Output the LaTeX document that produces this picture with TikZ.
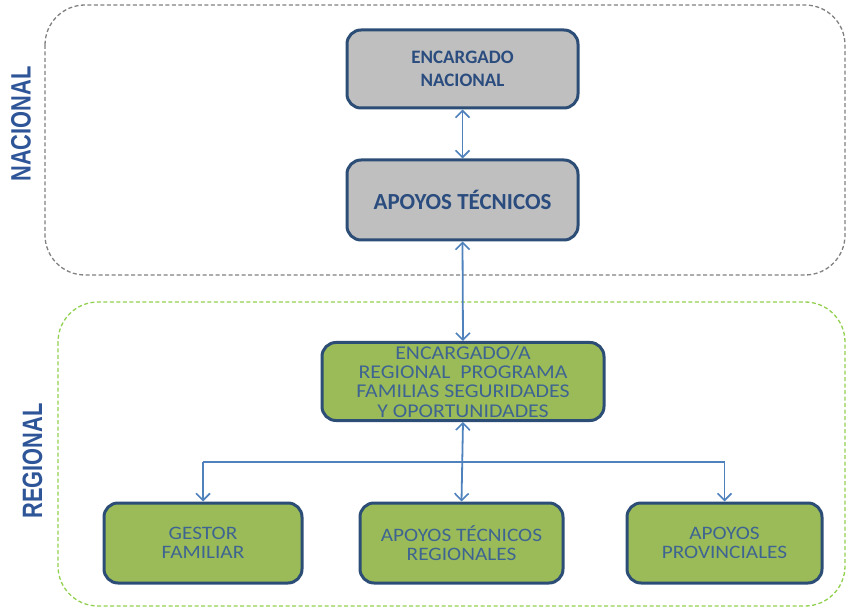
\documentclass[tikz,border=0pt]{standalone}
\usepackage{fontspec}
\setmainfont{Carlito}
\newfontfamily\narrowfont[FakeStretch=0.78]{Liberation Sans}
\newfontfamily\wideregfont[FakeStretch=1.12]{Carlito}
\usetikzlibrary{arrows.meta}
\definecolor{boxborder}{RGB}{44,77,117}
\definecolor{grayfill}{RGB}{191,191,191}
\definecolor{greenfill}{RGB}{155,187,89}
\definecolor{arrowblue}{RGB}{79,129,189}
\definecolor{textnat}{RGB}{43,76,126}
\definecolor{textreg}{RGB}{62,100,145}
\definecolor{sidelabel}{RGB}{46,85,151}
\definecolor{natdash}{RGB}{128,128,128}
\definecolor{regdash}{RGB}{146,208,80}
\tikzset{
  natbox/.style={draw=boxborder, line width=3pt, rounded corners=14pt, fill=grayfill,
    text=textnat, align=center, inner sep=0pt},
  regbox/.style={draw=boxborder, line width=3pt, rounded corners=14pt, fill=greenfill,
    text=textreg, font=\wideregfont\fontsize{19.5}{19.3}\selectfont, align=center, inner sep=0pt},
  subbox/.style={draw=boxborder, line width=3pt, rounded corners=14pt, fill=greenfill,
    text=textreg, font=\wideregfont\fontsize{19}{18.5}\selectfont, align=center, inner sep=0pt},
  link/.style={draw=arrowblue, line width=1.8pt},
  zone/.style={dash pattern=on 4pt off 2.5pt, line width=1.3pt, rounded corners=40pt},
  sidetext/.style={text=sidelabel, font=\narrowfont\fontsize{28}{28}\selectfont\bfseries, rotate=90}
}
\begin{document}
\begin{tikzpicture}[x=1pt,y=-1pt, >={Straight Barb[length=7pt,width=14pt,line width=1.6pt]}]
\useasboundingbox (0,0) rectangle (849,612);
% zones
\draw[zone, draw=natdash] (45,5) rectangle (845,275);
\draw[zone, draw=regdash] (58,302) rectangle (845,606);
\node[sidetext] (lnat) at (21,124) {NACIONAL};
\node[sidetext] (lreg) at (32.5,461) {REGIONAL};
% boxes
\node[natbox, font=\fontsize{19}{23}\selectfont\bfseries, minimum width=231pt, minimum height=78pt] (enc) at (462.5,69) {ENCARGADO\\NACIONAL};
\node[natbox, font=\fontsize{23}{26}\selectfont\bfseries, minimum width=231pt, minimum height=80pt] (apt) at (462.5,200) {APOYOS TÉCNICOS};
\node[regbox, minimum width=282pt, minimum height=78pt] (reg) at (463,381.5) {ENCARGADO/A\\REGIONAL\ \ PROGRAMA\\FAMILIAS SEGURIDADES\\Y OPORTUNIDADES};
\node[subbox, minimum width=198pt, minimum height=80pt] (ges) at (203,543) {GESTOR\\FAMILIAR};
\node[subbox, minimum width=203pt, minimum height=80pt] (atr) at (461.5,543) {APOYOS TÉCNICOS\\REGIONALES};
\node[subbox, minimum width=195pt, minimum height=80pt] (apr) at (724.5,543) {APOYOS\\PROVINCIALES};
% connectors
\draw[link, <->] (enc.south) -- (apt.north);
\draw[link, <->] (apt.south) -- (reg.north);
\draw[link, <->] (reg.south) -- (atr.north);
\coordinate (hl) at (ges.north |- 0,462);
\coordinate (hr) at (apr.north |- 0,462);
\draw[link] (hl) -- (hr);
\draw[link, ->] (hl) -- (ges.north);
\draw[link, ->] (hr) -- (apr.north);
\end{tikzpicture}
\end{document}
